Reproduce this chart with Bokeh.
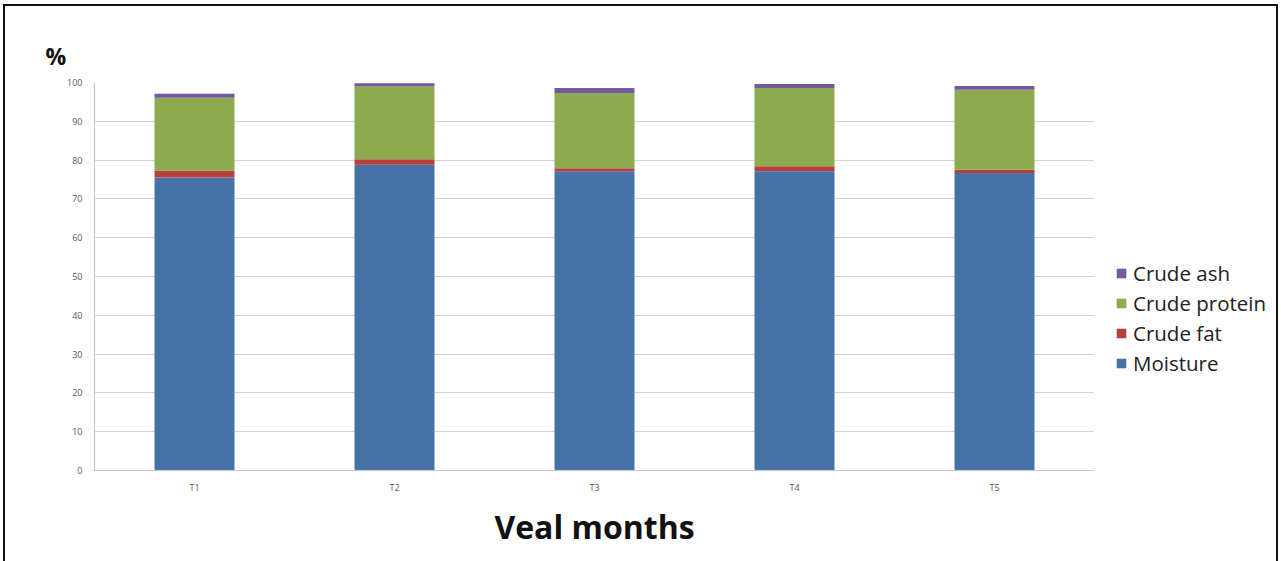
from bokeh.plotting import figure
from bokeh.models import Legend, LegendItem, Title, SingleIntervalTicker, InlineStyleSheet
from bokeh.embed import file_html
from bokeh.resources import INLINE

# Proximate composition of veal by month group (%)
groups = ["T1", "T2", "T3", "T4", "T5"]
moisture = [75.5, 78.8, 77.1, 77.1, 76.7]
crude_fat = [1.8, 1.4, 0.8, 1.3, 0.8]
crude_protein = [18.8, 18.8, 19.4, 20.2, 20.6]
crude_ash = [1.0, 0.8, 1.3, 1.0, 1.0]

series = ["Moisture", "Crude fat", "Crude protein", "Crude ash"]
colors = ["#4672A8", "#B5413E", "#8CAB4E", "#7459A0"]

data = {"group": groups, "Moisture": moisture, "Crude fat": crude_fat,
        "Crude protein": crude_protein, "Crude ash": crude_ash}

FONT = "Open Sans"

p = figure(x_range=groups, y_range=(0, 100), width=1281, height=561,
           frame_width=1000, frame_height=388,
           min_border_left=94, min_border_right=187, min_border_top=82, min_border_bottom=91,
           output_backend="svg", toolbar_location=None, tools="")

renderers = p.vbar_stack(series, x="group", width=0.4, color=colors, source=data,
                         line_color=None)

p.outline_line_color = None
p.background_fill_color = "white"
p.border_fill_color = "white"

# grid
p.xgrid.grid_line_color = None
p.ygrid.grid_line_color = "#D4D4D4"
p.ygrid.grid_line_width = 1.2
p.yaxis.ticker = SingleIntervalTicker(interval=10)

for ax in (p.xaxis, p.yaxis):
    ax.axis_line_color = "#C8C8C8"
    ax.axis_line_width = 1.2
    ax.major_tick_line_color = None
    ax.minor_tick_line_color = None
    ax.major_label_text_font = FONT
    ax.major_label_text_font_size = "9px"
    ax.major_label_text_color = "#595959"

p.yaxis.major_label_standoff = 6
p.xaxis.major_label_standoff = 4

p.xaxis.axis_label = "Veal months"
p.xaxis.axis_label_text_font = FONT
p.xaxis.axis_label_text_font_style = "bold"
p.xaxis.axis_label_text_font_size = "32px"
p.xaxis.axis_label_text_color = "#111111"
p.xaxis.axis_label_standoff = 8

# unit label above the value axis
p.add_layout(Title(text="%", align="left", offset=-49, standoff=21,
                   text_font=FONT, text_font_style="bold", text_font_size="23px",
                   text_color="#111111"), "above")

# legend listed top-down from the top of the stack
items = [LegendItem(label=s, renderers=[r]) for s, r in zip(series, renderers)][::-1]
legend = Legend(items=items, location=(21, 93), orientation="vertical",
                label_text_font=FONT, label_text_font_size="20.5px", label_text_color="#222222",
                label_height=22, glyph_width=12, glyph_height=12, label_standoff=6, spacing=2,
                background_fill_alpha=0, border_line_color=None, padding=0, margin=0)
p.add_layout(legend, "right")

# page frame
p.stylesheets = [InlineStyleSheet(css="""
:host::after {
  content: ""; position: absolute; left: 3px; top: 4px;
  width: 1271px; height: 700px;
  border: 2px solid #111; pointer-events: none;
}
""")]

open("out.html", "w").write(file_html(p, INLINE))
